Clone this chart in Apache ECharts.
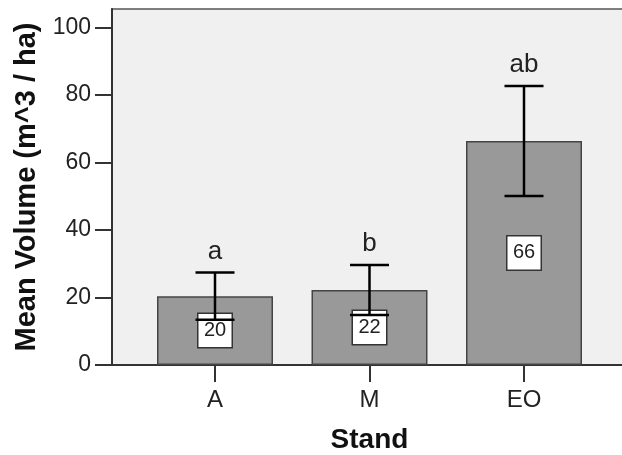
<!DOCTYPE html>
<html>
<head>
<meta charset="utf-8">
<script src="https://cdn.jsdelivr.net/npm/echarts@6/dist/echarts.min.js"></script>
<style>html,body{margin:0;padding:0;background:#fff;}#c{width:622px;height:455px;}</style>
</head>
<body>
<div id="c"></div>
<script>
const categories = ['A', 'M', 'EO'];
const means = [20.4, 22.2, 66.4];
const errLow = [13.4, 14.8, 50.1];
const errHigh = [27.4, 29.6, 82.7];
const letters = ['a', 'b', 'ab'];
const valueLabels = ['20', '22', '66'];
const yTicks = [0, 20, 40, 60, 80, 100];
const xTicks = [0, 1, 2];

const FONT = '"Liberation Sans", Arial, sans-serif';
const chart = echarts.init(document.getElementById('c'), null, {renderer: 'canvas'});

const barData = means.map((m, i) => ({value: [i, m], label: {formatter: valueLabels[i]}}));
const errData = means.map((m, i) => [i, errLow[i], errHigh[i], letters[i]]);

chart.setOption({
  animation: false,
  backgroundColor: '#ffffff',
  grid: {left: 112, top: 9, bottom: 90, right: -5, containLabel: false, outerBoundsMode: 'none',
    show: true, backgroundColor: '#f0f0f0', borderColor: '#555', borderWidth: 1.5},
  xAxis: {
    type: 'value', min: -2/3, max: 8/3,
    name: 'Stand', nameLocation: 'middle', nameGap: 61,
    nameTextStyle: {fontFamily: FONT, fontSize: 28, fontWeight: 'bold', color: '#111'},
    splitLine: {show: false},
    axisLine: {show: true, onZero: false, lineStyle: {color: '#333', width: 2}},
    axisTick: {show: true, customValues: xTicks, length: 17, lineStyle: {color: '#333', width: 2}},
    axisLabel: {customValues: xTicks, margin: 23, fontFamily: FONT, fontSize: 24, color: '#222',
      formatter: v => categories[Math.round(v)]}
  },
  yAxis: {
    type: 'value', min: 0, max: 105.5,
    name: 'Mean Volume (m^3 / ha)', nameLocation: 'middle', nameGap: 66,
    nameTextStyle: {fontFamily: FONT, fontSize: 29, fontWeight: 'bold', color: '#111'},
    splitLine: {show: false},
    axisLine: {show: true, onZero: false, lineStyle: {color: '#333', width: 2}},
    axisTick: {show: true, customValues: yTicks, length: 17, lineStyle: {color: '#333', width: 2}},
    axisLabel: {customValues: yTicks, margin: 21, fontFamily: FONT, fontSize: 23, color: '#222'}
  },
  series: [
    {
      type: 'bar', data: barData, barWidth: 116,
      itemStyle: {color: '#999999', borderColor: '#444', borderWidth: 1.5},
      label: {show: true, position: 'inside', fontFamily: FONT, fontSize: 20, color: '#222',
        backgroundColor: '#fff', borderColor: '#333', borderWidth: 1.5,
        width: 33, height: 33, lineHeight: 33, align: 'center', verticalAlign: 'middle'},
      z: 2
    },
    {
      type: 'custom', data: errData, z: 3,
      encode: {x: 0, y: [1, 2]},
      renderItem: function (params, api) {
        const x = api.value(0);
        const lo = api.coord([x, api.value(1)]);
        const hi = api.coord([x, api.value(2)]);
        const half = 19.5;
        const style = {stroke: '#000', lineWidth: 2.5};
        return {
          type: 'group',
          children: [
            {type: 'line', shape: {x1: hi[0], y1: hi[1], x2: lo[0], y2: lo[1]}, style},
            {type: 'line', shape: {x1: hi[0] - half, y1: hi[1], x2: hi[0] + half, y2: hi[1]}, style},
            {type: 'line', shape: {x1: lo[0] - half, y1: lo[1], x2: lo[0] + half, y2: lo[1]}, style},
            {type: 'text', x: hi[0], y: hi[1] - 8,
              style: {text: api.value(3), fontFamily: FONT, fontSize: 26, fill: '#222', align: 'center', verticalAlign: 'bottom'}}
          ]
        };
      }
    }
  ]
});
</script>
</body>
</html>
